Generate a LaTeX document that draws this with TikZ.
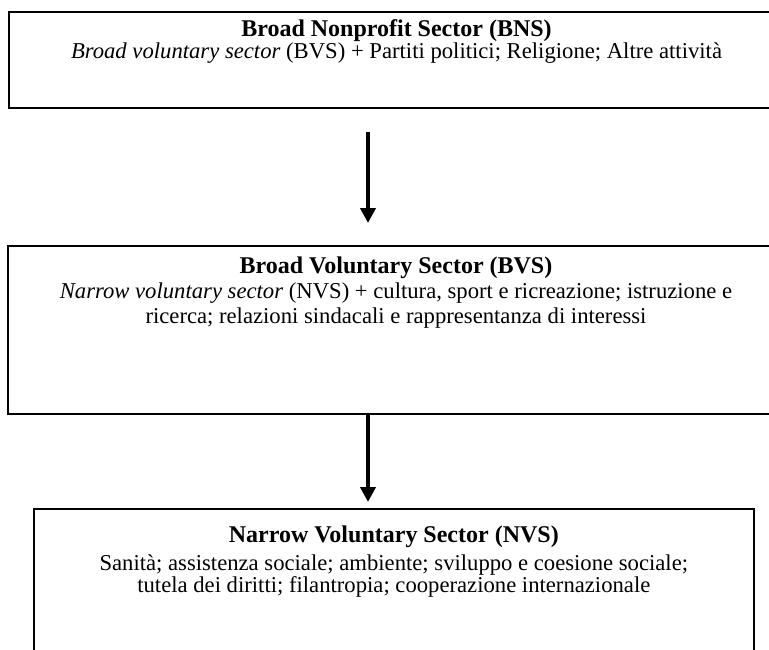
\documentclass[tikz,border=0pt]{standalone}
\usepackage{fontspec}
\setmainfont{Liberation Serif}
\usetikzlibrary{arrows.meta, calc, positioning}

\begin{document}
\begin{tikzpicture}[x=0.75pt, y=-0.75pt,
  sector/.style={draw, line width=1.5pt, anchor=north west, inner sep=0pt},
  sectortext/.style={anchor=north, align=center, inner sep=0pt, font=\fontsize{17}{16.5}\selectfont},
  flow/.style={line width=3.6pt, -{Triangle[length=11.25pt, width=11.25pt]}}]

\useasboundingbox (0,0) rectangle (769,650);
\clip (0,0) rectangle (769,650);

\coordinate (axis) at (368,0);

% Broad nonprofit sector
\node[sector, minimum width=582pt, minimum height=72pt] (bns) at (7.5,11) {};
\node[sectortext, below=6pt of bns.north] (bnsText)
  {{\fontsize{18}{16.5}\selectfont\bfseries Broad Nonprofit Sector (BNS)}\\[0pt]
   \textit{Broad voluntary sector} (BVS) + Partiti politici; Religione; Altre attività};

% Broad voluntary sector
\node[sector, minimum width=582pt, minimum height=126pt] (bvs) at (7,245) {};
\node[sectortext, below=9pt of bvs.north] (bvsText)
  {{\fontsize{18}{16.5}\selectfont\bfseries Broad Voluntary Sector (BVS)}\\[2pt]
   \textit{Narrow voluntary sector} (NVS) + cultura, sport e ricreazione; istruzione e\\[2pt]
   ricerca; relazioni sindacali e rappresentanza di interessi};

% Narrow voluntary sector
\node[sector, line width=1.2pt, minimum width=540pt, minimum height=150pt] (nvs) at (33,508) {};
\node[sectortext, below=13pt of nvs.north] (nvsText)
  {{\fontsize{18}{16.5}\selectfont\bfseries Narrow Voluntary Sector (NVS)}\\[5pt]
   Sanità; assistenza sociale; ambiente; sviluppo e coesione sociale;\\
   tutela dei diritti; filantropia; cooperazione internazionale};

% Arrows
\draw[flow] ($(bns.south -| axis)+(0,23)$) -- ($(bvs.north -| axis)+(0,-22)$);
\draw[flow] (bvs.south -| axis) -- ($(nvs.north -| axis)+(0,-6)$);

\end{tikzpicture}
\end{document}
